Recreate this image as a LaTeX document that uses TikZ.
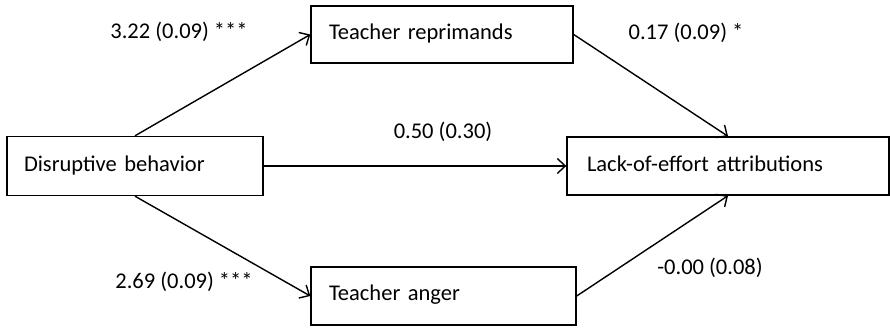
\documentclass[tikz,border=0pt]{standalone}
\usepackage{fontspec}
\setmainfont{Carlito}
\usetikzlibrary{arrows.meta,calc}
\begin{document}
\begin{tikzpicture}[x=1pt,y=-1pt,
  font=\fontsize{22.5}{26}\selectfont,
  box/.style={draw, line width=1.4pt, rectangle, align=left, inner ysep=0pt},
  conn/.style={line width=1.4pt, -{Straight Barb[length=8pt,width=15pt,line width=1.4pt]}},
  lab/.style={inner sep=0pt}]
\useasboundingbox (0,0) rectangle (890,328);
\node[box, minimum width=256pt, minimum height=59pt, text width=222pt, inner xsep=17pt] (d) at (135,166) {\raisebox{4pt}{Disruptive behavior}};
\node[box, minimum width=262pt, minimum height=57pt, text width=226pt, inner xsep=18pt] (r) at (442,34.5) {\raisebox{5pt}{Teacher reprimands}};
\node[box, minimum width=265pt, minimum height=58pt, text width=229pt, inner xsep=18pt] (a) at (443.5,296) {\raisebox{6pt}{Teacher anger}};
\node[box, minimum width=322pt, minimum height=58pt, text width=282pt, inner xsep=20pt] (l) at (728,166) {\raisebox{4pt}{Lack-of-effort attributions}};
\draw[conn] (d.north) -- (r.west);
\draw[conn] (d.south) -- (a.west);
\draw[conn] (d.east) -- (l.west);
\draw[conn] (r.east) -- (l.north);
\draw[conn] (a.east) -- (l.south);
\node[lab] (l1) at (179,32) {3.22 (0.09) ***};
\node[lab] (l2) at (686,33) {0.17 (0.09) *};
\node[lab] (l3) at (443,132) {0.50 (0.30)};
\node[lab] (l4) at (184,282) {2.69 (0.09) ***};
\node[lab] (l5) at (710,268) {-0.00 (0.08)};
\end{tikzpicture}
\end{document}
